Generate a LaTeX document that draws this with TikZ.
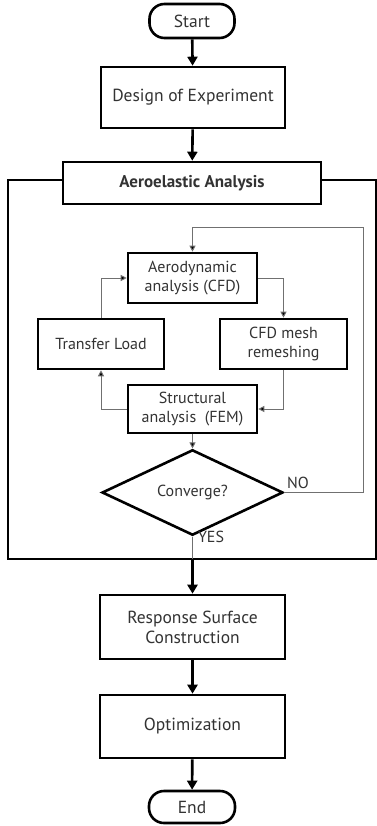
\documentclass[tikz,border=0pt]{standalone}
\usepackage{fontspec}
\setmainfont{PT Sans}
\usetikzlibrary{arrows.meta,shapes.geometric}
\definecolor{txt}{HTML}{333333}
\definecolor{thinln}{HTML}{707070}
\begin{document}
\begin{tikzpicture}[x=1pt,y=-1pt,
  box/.style={draw=black,line width=2.6pt,fill=white,align=center,text=txt,inner sep=2pt,font=\fontsize{17.5}{20}\selectfont},
  ibox/.style={draw=black,line width=2.6pt,fill=white,align=center,text=txt,inner sep=2pt,font=\fontsize{16}{18.5}\selectfont},
  term/.style={box,rounded corners=15pt},
  bigarrow/.style={line width=2.6pt,-{Triangle[width=10pt,length=9pt]}},
  thinarrow/.style={line width=1pt,draw=thinln,-{Triangle[width=6pt,length=6pt,fill=black]}},
  thinline/.style={line width=1pt,draw=thinln},
  lbl/.style={text=txt,font=\fontsize{16}{18}\selectfont}]
\useasboundingbox (0,0) rectangle (376,826);
\fill[white] (0,0) rectangle (376,826);
% frame
\draw[line width=2.6pt] (8,180) rectangle (376,559);
\node[term,minimum width=85,minimum height=34] (start) at (192,21) {Start};
\node[box,minimum width=184,minimum height=61] (design) at (193,97.5) {Design of Experiment};
\node[box,minimum width=258,minimum height=42,font=\fontsize{17}{20}\selectfont\bfseries] (aero) at (192,183) {Aeroelastic Analysis};
\node[ibox,minimum width=129,minimum height=50] (aerodyn) at (192.5,278) {Aerodynamic\\analysis (CFD)};
\node[ibox,minimum width=126,minimum height=50] (transfer) at (101,344) {Transfer Load};
\node[ibox,minimum width=127,minimum height=50] (cfd) at (283.5,344) {CFD mesh\\remeshing};
\node[ibox,minimum width=129,minimum height=48] (struct) at (192.5,409) {Structural\\analysis\ \ (FEM)};
\node[ibox,shape=diamond,inner sep=0pt,minimum width=181,minimum height=49] (conv) at (192.5,492.5) {Converge?};
\node[box,minimum width=185,minimum height=64] (resp) at (192.5,627) {Response Surface\\Construction};
\node[box,minimum width=185,minimum height=63] (opt) at (192.5,726.5) {Optimization};
\node[term,minimum width=86,minimum height=32] (end) at (192,807) {End};
\coordinate (fb) at (363,227);
\coordinate (fbot) at (192.5,559);
% main flow
\draw[bigarrow] (start) -- (design);
\draw[bigarrow] (design) -- (aero);
\draw[bigarrow] (fbot) -- (resp);
\draw[bigarrow] (resp) -- (opt);
\draw[bigarrow] (opt) -- (end);
% inner loop
\draw[thinarrow] (aerodyn.east) -| (cfd.north);
\draw[thinarrow] (cfd.south) |- (struct.east);
\draw[thinarrow] (struct.west) -| (transfer.south);
\draw[thinarrow] (transfer.north) |- (aerodyn.west);
\draw[thinarrow] (struct.south) -- (conv.north);
\draw[thinline] (conv.east) -| (fb);
\draw[thinarrow] (fb) -| (aerodyn.north);
\draw[thinline] (conv.south) -- (fbot);
\node[lbl] (no) at (298,483) {NO};
\node[lbl] (yes) at (211,537) {YES};
\end{tikzpicture}
\end{document}
